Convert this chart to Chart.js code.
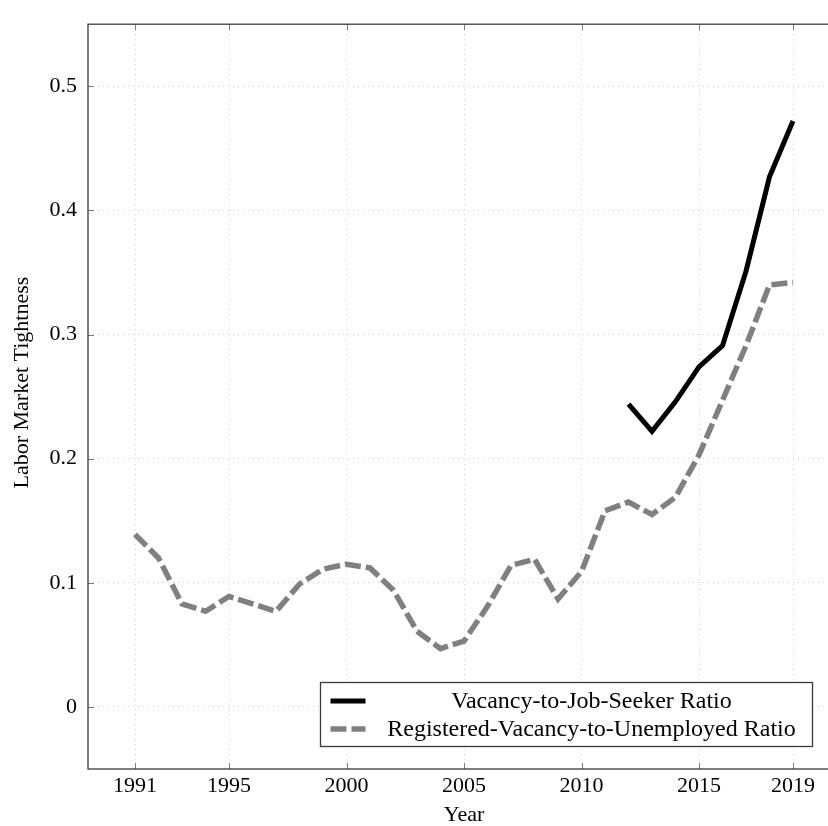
<!DOCTYPE html>
<html>
<head>
<meta charset="utf-8">
<title>Labor Market Tightness</title>
<script src="https://cdn.jsdelivr.net/npm/chart.js@4.4.1/dist/chart.umd.min.js"></script>
<style>
  html, body { margin: 0; padding: 0; background: #fff; overflow: hidden; }
  #wrap { width: 828px; height: 826px; overflow: hidden; }
  canvas { display: block; }
</style>
</head>
<body>
<div id="wrap"><canvas id="chart" width="840" height="826"></canvas></div>
<script>
// Data
const years = [1991, 1992, 1993, 1994, 1995, 1996, 1997, 1998, 1999, 2000,
               2001, 2002, 2003, 2004, 2005, 2006, 2007, 2008, 2009, 2010,
               2011, 2012, 2013, 2014, 2015, 2016, 2017, 2018, 2019];
const registeredRatio = [0.139, 0.120, 0.083, 0.077, 0.089, 0.083, 0.077, 0.099, 0.111, 0.115,
                         0.112, 0.094, 0.061, 0.047, 0.053, 0.081, 0.114, 0.119, 0.087, 0.109,
                         0.158, 0.165, 0.155, 0.169, 0.203, 0.247, 0.291, 0.340, 0.342];
const seekerYears = [2012, 2013, 2014, 2015, 2016, 2017, 2018, 2019];
const seekerRatio = [0.244, 0.222, 0.246, 0.274, 0.291, 0.351, 0.427, 0.472];
const xTickValues = [1991, 1995, 2000, 2005, 2010, 2015, 2019];
const yTickValues = [0, 0.1, 0.2, 0.3, 0.4, 0.5];
const seriesLabels = ['Vacancy-to-Job-Seeker Ratio', 'Registered-Vacancy-to-Unemployed Ratio'];
const yTitle = 'Labor Market Tightness';

const FONT = '"Liberation Serif", "DejaVu Serif", serif';
Chart.defaults.font.family = FONT;
Chart.defaults.font.size = 22;
Chart.defaults.color = '#000';

// pgfplots-like box: frame, inward ticks, y label and a legend inside the plot
const boxPlugin = {
  id: 'boxPlugin',
  afterDraw(chart) {
    const { ctx, chartArea: a, scales: { x, y } } = chart;
    ctx.save();
    ctx.strokeStyle = '#7a7a7a';
    ctx.lineWidth = 1;
    ctx.beginPath();
    xTickValues.forEach(v => {
      const px = Math.round(x.getPixelForValue(v)) + 0.5;
      ctx.moveTo(px, a.bottom); ctx.lineTo(px, a.bottom - 6);
      ctx.moveTo(px, a.top); ctx.lineTo(px, a.top + 6);
    });
    yTickValues.forEach(v => {
      const py = Math.round(y.getPixelForValue(v)) + 0.5;
      ctx.moveTo(a.left, py); ctx.lineTo(a.left + 6, py);
      ctx.moveTo(a.right, py); ctx.lineTo(a.right - 6, py);
    });
    ctx.stroke();

    ctx.strokeStyle = '#3a3a3a';
    ctx.lineWidth = 1.3;
    ctx.strokeRect(a.left, a.top, a.right - a.left, a.bottom - a.top);

    // y axis label
    ctx.save();
    ctx.translate(22, (a.top + a.bottom) / 2 - 14);
    ctx.rotate(-Math.PI / 2);
    ctx.font = '22px ' + FONT;
    ctx.fillStyle = '#000';
    ctx.textAlign = 'center';
    ctx.textBaseline = 'middle';
    ctx.fillText(yTitle, 0, 0);
    ctx.restore();

    // legend
    ctx.font = '24px ' + FONT;
    const padL = 10, sampleW = 35, gap = 16, padR = 11;
    const textW = Math.max(...seriesLabels.map(s => ctx.measureText(s).width));
    const colW = Math.max(textW, 420);
    const boxW = padL + sampleW + gap + colW + padR;
    const boxH = 64;
    const bx = Math.round(a.right - 28 - boxW) + 0.5;
    const by = Math.round(a.bottom - 23 - boxH) + 0.5;
    ctx.fillStyle = '#fff';
    ctx.fillRect(bx, by, boxW, boxH);
    ctx.strokeStyle = '#3a3a3a';
    ctx.lineWidth = 1.3;
    ctx.strokeRect(bx, by, boxW, boxH);

    const rows = [by + 18.5, by + 46.5];
    chart.data.datasets.forEach((ds, i) => {
      ctx.beginPath();
      ctx.strokeStyle = ds.borderColor;
      ctx.lineWidth = ds.borderWidth;
      ctx.lineCap = 'butt';
      ctx.setLineDash(ds.borderDash || []);
      ctx.moveTo(bx + padL, rows[i]);
      ctx.lineTo(bx + padL + sampleW, rows[i]);
      ctx.stroke();
      ctx.setLineDash([]);
      ctx.fillStyle = '#000';
      ctx.textAlign = 'center';
      ctx.textBaseline = 'middle';
      ctx.fillText(ds.label, bx + padL + sampleW + gap + colW / 2, rows[i] + 1);
    });
    ctx.restore();
  }
};

const ctx = document.getElementById('chart').getContext('2d');
new Chart(ctx, {
  type: 'line',
  data: {
    datasets: [
      {
        label: seriesLabels[0],
        data: seekerYears.map((yr, i) => ({ x: yr, y: seekerRatio[i] })),
        borderColor: '#000000',
        borderWidth: 5,
        borderJoinStyle: 'miter',
        pointRadius: 0,
        fill: false,
        tension: 0
      },
      {
        label: seriesLabels[1],
        data: years.map((yr, i) => ({ x: yr, y: registeredRatio[i] })),
        borderColor: '#808080',
        borderWidth: 5.5,
        borderDash: [16, 5],
        borderJoinStyle: 'miter',
        pointRadius: 0,
        fill: false,
        tension: 0
      }
    ]
  },
  options: {
    responsive: false,
    animation: false,
    layout: { padding: { top: 17, right: 0, left: 0, bottom: 0 } },
    plugins: { legend: { display: false }, tooltip: { enabled: false } },
    scales: {
      x: {
        type: 'linear',
        min: 1989,
        max: 2021,
        afterBuildTicks: scale => { scale.ticks = xTickValues.map(v => ({ value: v })); },
        afterFit: scale => { scale.height = 57; },
        grid: { color: '#cfcfcf', lineWidth: 1, drawTicks: false },
        border: { display: false, dash: [1, 4] },
        ticks: { padding: 4, autoSkip: false, maxRotation: 0, callback: v => String(v) },
        title: { display: true, text: 'Year', font: { size: 22, lineHeight: 1 }, padding: { top: 0, bottom: 0 } }
      },
      y: {
        type: 'linear',
        min: -0.05,
        max: 0.55,
        afterBuildTicks: scale => { scale.ticks = yTickValues.map(v => ({ value: v })); },
        afterFit: scale => { scale.width = 88; },
        grid: { color: '#cfcfcf', lineWidth: 1, drawTicks: false },
        border: { display: false, dash: [1, 4] },
        ticks: { padding: 11, callback: v => (v === 0 ? '0' : v.toFixed(1)) },
        title: { display: false }
      }
    }
  },
  plugins: [boxPlugin]
});
</script>
</body>
</html>
